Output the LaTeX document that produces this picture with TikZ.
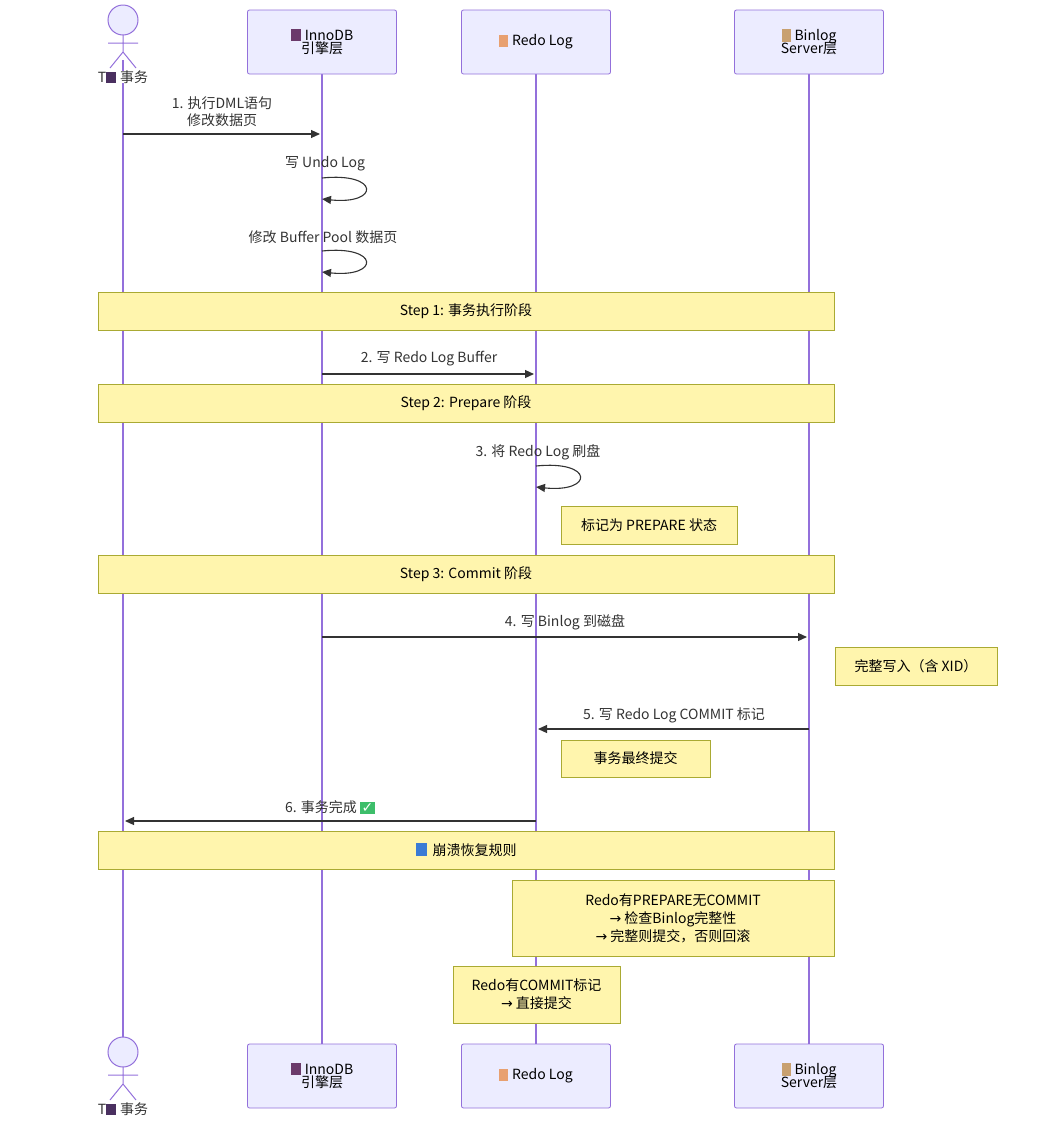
\documentclass[tikz,border=0pt]{standalone}
\usepackage{fontspec}
\setmainfont{Noto Sans CJK SC}
\newfontfamily\djv{DejaVu Sans}
\usetikzlibrary{arrows.meta}
\definecolor{lifec}{HTML}{9370DB}
\definecolor{boxf}{HTML}{ECECFF}
\definecolor{notef}{HTML}{FFF5AD}
\definecolor{notel}{HTML}{AAAA33}
\definecolor{ink}{HTML}{333333}
\newcommand{\icfloppy}{\textcolor[HTML]{6B3A6B}{\rule[-1pt]{10pt}{12pt}}\hspace{4pt}}
\newcommand{\icpad}{\textcolor[HTML]{E8A070}{\rule[-1pt]{9pt}{12pt}}\hspace{4pt}}
\newcommand{\icclip}{\textcolor[HTML]{C8A070}{\rule[-1pt]{9pt}{13pt}}\hspace{4pt}}
\newcommand{\icperson}{\textcolor[HTML]{4A3060}{\rule[-1pt]{10pt}{11pt}}\hspace{4pt}}
\newcommand{\iccheck}{{\setlength{\fboxsep}{1.5pt}\colorbox[HTML]{3DBE6A}{\color{white}\djv ✓}}}
\newcommand{\icshield}{\textcolor[HTML]{3A7BD5}{\rule[-1pt]{11pt}{13pt}}\hspace{6pt}}
\begin{document}
\begin{tikzpicture}[x=1pt,y=-1pt,
  font=\fontsize{14}{16}\selectfont,
  box/.style={draw=lifec,fill=boxf,rounded corners=2pt,minimum width=149pt,minimum height=64pt,align=center,line width=0.8pt},
  life/.style={draw=lifec,line width=1.2pt},
  note/.style={draw=notel,fill=notef,align=center,line width=0.8pt,inner sep=0pt},
  msg/.style={draw=ink,line width=1.1pt,-{Triangle[length=9pt,width=8pt]}},
  lbl/.style={align=center,text=ink,inner sep=0pt}]
\useasboundingbox (0,0) rectangle (1055,1128);
% lifelines
\coordinate (a1) at (123,60); \coordinate (a2) at (123,1044);
\draw[life] (a1) -- (a2);
\foreach \n/\x in {i/322,r/536,b/809}{
  \coordinate (\n1) at (\x,74); \coordinate (\n2) at (\x,1044);
  \draw[life] (\n1) -- (\n2);}
% actors
\foreach \y/\s in {0/t,1032/u}{
  \begin{scope}[yshift=-\y]
  \node[draw=lifec,fill=boxf,circle,minimum size=30pt,line width=1pt] (head\s) at (123,20) {};
  \draw[lifec,line width=1pt] (123,35) -- (123,52) (108,43) -- (138,43) (123,52) -- (110,68) (123,52) -- (136,68);
  \node[lbl,fill=white] (al\s) at (123,77) {T\icperson 事务};
  \end{scope}}
% boxes
\foreach \y/\s in {42/t,1076/u}{
  \node[box] (bi\s) at (322,\y) {\icfloppy InnoDB\\[-3pt]引擎层};
  \node[box] (br\s) at (536,\y) {\icpad Redo Log};
  \node[box] (bb\s) at (809,\y) {\icclip Binlog\\[-3pt]Server层};}
% msg 1
\coordinate (m1a) at (123,134); \coordinate (m1b) at (320,134);
\draw[msg] (m1a) -- (m1b);
\node[lbl] (l1) at (222,112) {1. 执行DML语句\\[1pt]修改数据页};
% self loops
\coordinate (s1a) at (322,178); \coordinate (s1b) at (322,199);
\draw[msg] (s1a) .. controls (380,172) and (380,205) .. (s1b);
\node[lbl] (ls1) at (325,164) {写 Undo Log};
\coordinate (s2a) at (322,251); \coordinate (s2b) at (322,272);
\draw[msg] (s2a) .. controls (380,245) and (380,278) .. (s2b);
\node[lbl] (ls2) at (323,237) {修改 Buffer Pool 数据页};
% step 1
\node[note,minimum width=736pt,minimum height=38pt] (n1) at (466,311) {Step 1: 事务执行阶段};
% msg 2
\coordinate (m2a) at (322,374); \coordinate (m2b) at (534,374);
\draw[msg] (m2a) -- (m2b);
\node[lbl] (l2) at (429,359) {2. 写 Redo Log Buffer};
\node[note,minimum width=736pt,minimum height=38pt] (n2) at (466,403) {Step 2: Prepare 阶段};
% loop 3
\coordinate (s3a) at (536,466); \coordinate (s3b) at (536,487);
\draw[msg] (s3a) .. controls (594,460) and (594,493) .. (s3b);
\node[lbl] (l3) at (538,452) {3. 将 Redo Log 刷盘};
\node[note,minimum width=176pt,minimum height=38pt] (n3) at (649,525) {标记为 PREPARE 状态};
\node[note,minimum width=736pt,minimum height=38pt] (n4) at (466,574) {Step 3: Commit 阶段};
% msg 4
\coordinate (m4a) at (322,637); \coordinate (m4b) at (807,637);
\draw[msg] (m4a) -- (m4b);
\node[lbl] (l4) at (565,622) {4. 写 Binlog 到磁盘};
\node[note,minimum width=162pt,minimum height=38pt] (n5) at (916,666) {完整写入（含 XID）};
% msg 5
\coordinate (m5a) at (809,729); \coordinate (m5b) at (538,729);
\draw[msg] (m5a) -- (m5b);
\node[lbl] (l5) at (674,715) {5. 写 Redo Log COMMIT 标记};
\node[note,minimum width=149pt,minimum height=37pt] (n6) at (635.5,758.5) {事务最终提交};
% msg 6
\coordinate (m6a) at (536,821); \coordinate (m6b) at (125,821);
\draw[msg] (m6a) -- (m6b);
\node[lbl] (l6) at (330,807) {6. 事务完成 \iccheck};
\node[note,minimum width=736pt,minimum height=38pt] (n7) at (466,850) {\icshield 崩溃恢复规则};
\node[note,minimum width=322pt,minimum height=76pt] (n8) at (673,918) {Redo有PREPARE无COMMIT\\[2pt]{\djv →} 检查Binlog完整性\\[2pt]{\djv →} 完整则提交，否则回滚};
\node[note,minimum width=167pt,minimum height=57pt] (n9) at (536.5,994.5) {Redo有COMMIT标记\\[2pt]{\djv →} 直接提交};
\end{tikzpicture}
\end{document}
